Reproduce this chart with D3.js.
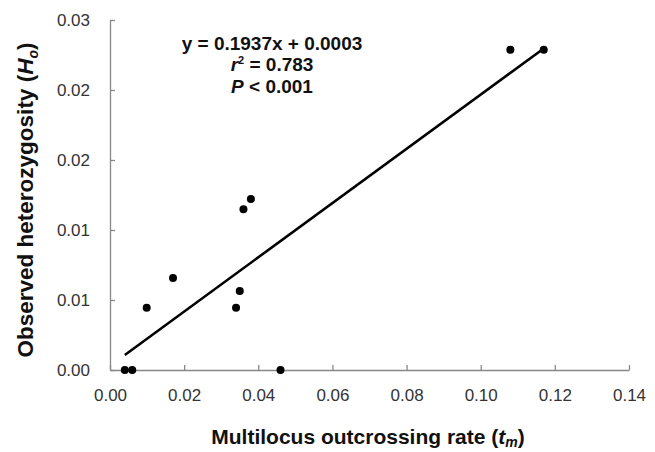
<!DOCTYPE html>
<html>
<head>
<meta charset="utf-8">
<script src="https://cdn.jsdelivr.net/npm/d3@7"></script>
<style>
  body { margin: 0; background: #fff; }
  text { font-family: "Liberation Sans", Arial, sans-serif; }
</style>
</head>
<body>
<div id="chart"></div>
<script>
const chart_width = 655;
const chart_height = 452;
const margin_left = 110;
const margin_top = 20;
const margin_right = 26;
const margin_bottom = 82;

const outcrossing = [0.004, 0.006, 0.0099, 0.017, 0.034, 0.035, 0.036, 0.038, 0.046, 0.108, 0.117];
const heterozygosity = [0, 0, 0.00445, 0.00657, 0.00445, 0.00564, 0.01148, 0.01222, 0, 0.02288, 0.02288];

const xTicks = [0, 0.02, 0.04, 0.06, 0.08, 0.10, 0.12, 0.14];
const xTickLabels = ["0.00", "0.02", "0.04", "0.06", "0.08", "0.10", "0.12", "0.14"];
const yTicks = [0, 0.005, 0.01, 0.015, 0.02, 0.025];
const yTickLabels = ["0.00", "0.01", "0.01", "0.02", "0.02", "0.03"];

const slope = 0.1937;
const intercept = 0.0003;
const fitRange = [0.004, 0.117];

const svg = d3.select("#chart")
    .append("svg")
    .attr("width", chart_width)
    .attr("height", chart_height);

const x = d3.scaleLinear()
    .domain([0, 0.14])
    .range([margin_left, chart_width - margin_right]);

const y = d3.scaleLinear()
    .domain([0, 0.025])
    .range([chart_height - margin_bottom, margin_top]);

const xAxis = svg.append("g")
    .attr("transform", `translate(0,${y(0)})`)
    .call(d3.axisBottom(x).tickValues(xTicks).tickFormat((d, i) => xTickLabels[i])
        .tickSizeInner(-5).tickSizeOuter(0).tickPadding(19));

const yAxis = svg.append("g")
    .attr("transform", `translate(${x(0)},0)`)
    .call(d3.axisLeft(y).tickValues(yTicks).tickFormat((d, i) => yTickLabels[i])
        .tickSizeInner(-5).tickSizeOuter(0).tickPadding(20));

[xAxis, yAxis].forEach(ax => {
    ax.select(".domain").attr("stroke", "#888").attr("stroke-width", 1.3);
    ax.selectAll(".tick line").attr("stroke", "#888").attr("stroke-width", 1.3);
    ax.selectAll(".tick text")
        .attr("fill", "#333")
        .style("font-size", "17px")
        .style("font-family", "'Liberation Sans', Arial, sans-serif");
});
yAxis.selectAll(".tick text").attr("dy", "0.35em");

// regression line
svg.append("line")
    .attr("x1", x(fitRange[0]))
    .attr("y1", y(slope * fitRange[0] + intercept))
    .attr("x2", x(fitRange[1]))
    .attr("y2", y(slope * fitRange[1] + intercept))
    .attr("stroke", "#000")
    .attr("stroke-width", 2.6);

svg.selectAll(".dot")
    .data(outcrossing)
    .join("circle")
    .attr("class", "dot")
    .attr("cx", d => x(d))
    .attr("cy", (d, i) => y(heterozygosity[i]))
    .attr("r", 4)
    .attr("fill", "#000");

// equation text
const eq = svg.append("g")
    .attr("font-size", "19px")
    .attr("font-weight", "bold")
    .attr("fill", "#111")
    .attr("text-anchor", "middle");

eq.append("text")
    .attr("x", 272).attr("y", 50)
    .text("y = 0.1937x + 0.0003");

const r2 = eq.append("text").attr("x", 272).attr("y", 71);
r2.append("tspan").attr("font-style", "italic").text("r");
r2.append("tspan").attr("font-size", "11px").attr("dy", -7).text("2");
r2.append("tspan").attr("dy", 7).text(" = 0.783");

const p = eq.append("text").attr("x", 272).attr("y", 93);
p.append("tspan").attr("font-style", "italic").text("P");
p.append("tspan").text(" < 0.001");

// axis titles
const xt = svg.append("text")
    .attr("x", 368)
    .attr("y", 444)
    .attr("text-anchor", "middle")
    .attr("font-size", "21px")
    .attr("font-weight", "bold")
    .attr("fill", "#111");
xt.append("tspan").text("Multilocus  outcrossing  rate (");
xt.append("tspan").attr("font-style", "italic").text("t");
xt.append("tspan").attr("font-style", "italic").attr("font-size", "14px").attr("dy", 3).text("m");
xt.append("tspan").attr("dy", -3).text(")");

const yt = svg.append("text")
    .attr("transform", "rotate(-90)")
    .attr("x", -200)
    .attr("y", 33)
    .attr("text-anchor", "middle")
    .attr("font-size", "22.5px")
    .attr("font-weight", "bold")
    .attr("fill", "#111");
yt.append("tspan").text("Observed heterozygosity (");
yt.append("tspan").attr("font-style", "italic").text("H");
yt.append("tspan").attr("font-style", "italic").attr("font-size", "14px").attr("dy", 5).text("o");
yt.append("tspan").attr("dy", -5).text(")");
</script>
</body>
</html>
